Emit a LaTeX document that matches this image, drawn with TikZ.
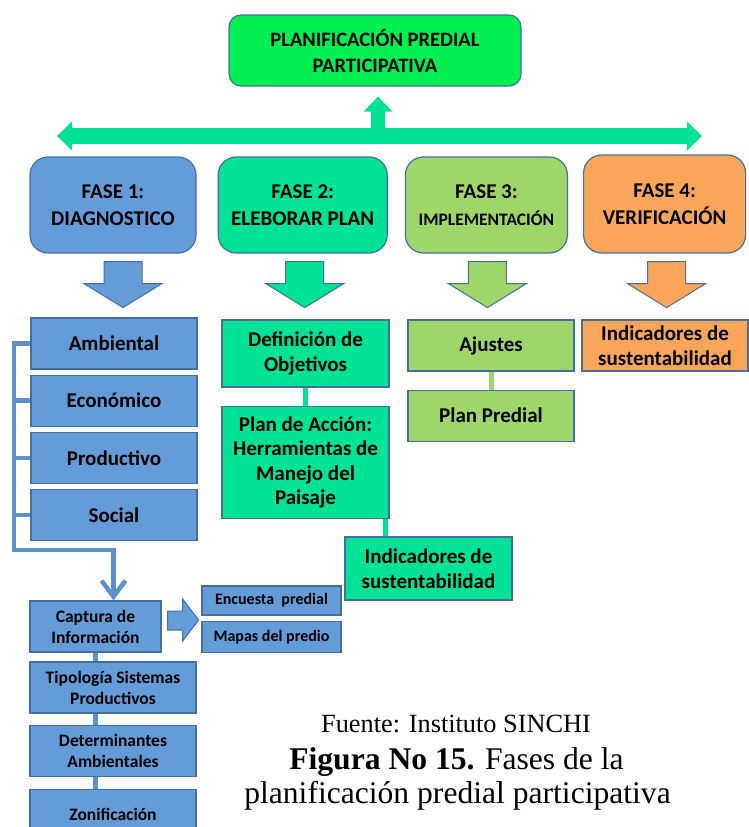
\documentclass[tikz,border=0pt]{standalone}
\usepackage{fontspec}
\setmainfont{Carlito}
\newfontfamily\timesfont{Liberation Serif}
\usetikzlibrary{shapes,arrows,arrows.meta,positioning,calc}
\usepackage{xcolor}

\definecolor{azul}{RGB}{99,156,217}
\definecolor{borde}{RGB}{70,110,158}
\definecolor{verde}{RGB}{0,226,150}
\definecolor{verdetitulo}{RGB}{0,240,82}
\definecolor{verdeclaro}{RGB}{158,214,106}
\definecolor{naranja}{RGB}{250,166,90}
\definecolor{lineaazul}{RGB}{92,145,204}

\begin{document}
\begin{tikzpicture}[x=1pt, y=-1pt, node distance=5pt, thick]
  \tikzstyle{titulo} = [rectangle, draw=borde, line width=1.2pt, fill=verdetitulo, rounded corners=12pt, minimum width=292pt, minimum height=71pt, align=center, font=\fontsize{20.5}{26}\selectfont\bfseries]
  \tikzstyle{fase} = [rectangle, draw=borde, line width=1.2pt, rounded corners=18pt, minimum width=166pt, minimum height=96pt, align=center, font=\fontsize{21}{27}\selectfont\bfseries]
  \tikzstyle{item} = [rectangle, draw=borde, line width=1.2pt, minimum width=166pt, minimum height=51pt, inner sep=2pt, align=center, font=\fontsize{21}{24.5}\selectfont\bfseries]
  \tikzstyle{chico} = [item, font=\fontsize{17.5}{21}\selectfont\bfseries, fill=azul]
  \tikzstyle{barra} = [draw=verde, line width=16pt, {Triangle[length=15pt,width=28pt]}-{Triangle[length=15pt,width=28pt]}]
  \tikzstyle{flecha} = [draw=verde, line width=14pt, -{Triangle[length=15pt,width=28pt]}]
  \tikzstyle{bloque} = [draw=borde, line width=1pt]
  \tikzstyle{ramal} = [draw=lineaazul, line width=4.5pt]
  \tikzstyle{conexion} = [line width=5pt]
  \tikzstyle{pie} = [font=\timesfont\fontsize{31.6}{34}\selectfont, anchor=base, inner sep=0pt]

  \useasboundingbox (0,0) rectangle (749,827);
  \clip (0,0) rectangle (749,827);

  % titulo y fases
  \node[titulo] (titulo) at (375,50.5) {PLANIFICACIÓN PREDIAL\\PARTICIPATIVA};
  \node[fase, fill=azul] (fase1) at (113,205) {FASE 1:\\DIAGNOSTICO};
  \node[fase, fill=verde, right=21pt of fase1, minimum width=169pt] (fase2) {FASE 2:\\ELEBORAR PLAN};
  \node[fase, fill=verdeclaro, right=17pt of fase2, minimum width=162pt] (fase3) {FASE 3:\\{\fontsize{17.5}{20}\selectfont IMPLEMENTACIÓN}};
  \node[fase, fill=naranja, right=15pt of fase3, minimum width=162pt, minimum height=98pt, yshift=1pt] (fase4) {FASE 4:\\VERIFICACIÓN};

  \coordinate (izq) at (57,136);
  \coordinate (der) at (702,136);
  \coordinate (sube) at (378,136);
  \draw[barra] (izq) -- (der);
  \draw[flecha, shorten >=10pt] (sube) -- (sube |- titulo.south);

  % flechas de bloque hacia abajo
  \foreach \f/\c/\dx in {fase1/azul/10, fase2/verde/2, fase3/verdeclaro/1, fase4/naranja/2}
    \draw[bloque, fill=\c] ([xshift=\dx pt, yshift=-8pt]\f.south) ++(-19,0) -- ++(38,0) -- ++(0,22)
      -- ++(20,0) -- ++(-39,24) -- ++(-39,-24) -- ++(20,0) -- cycle;

  % fase 1
  \node[item, fill=azul] (amb) at (114,343.5) {Ambiental};
  \node[item, fill=azul, below=of amb] (eco) {Económico};
  \node[item, fill=azul, below=of eco] (prod) {Productivo};
  \node[item, fill=azul, below=of prod] (soc) {Social};

  \node[chico, minimum width=131pt] (captura) at (95.5,626.5) {Captura de\\Información};
  \node[chico] (tipo) at (113,687.5) {Tipología Sistemas\\Productivos};
  \node[chico, below=11pt of tipo] (det) {Determinantes\\Ambientales};
  \node[chico, below=12pt of det] (zon) {Zonificación};
  \node[chico, font=\fontsize{16}{18}\selectfont\bfseries, minimum width=139pt, minimum height=29pt] (encuesta) at (271.5,600.5) {Encuesta\ \ predial};
  \node[chico, font=\fontsize{16}{18}\selectfont\bfseries, minimum width=139pt, minimum height=31pt, below=of encuesta] (mapas) {Mapas del predio};

  \coordinate (rama) at (14,550);
  \draw[ramal, -{Straight Barb[length=16pt,width=24pt]}] (amb.west) -| (rama) -| ([xshift=18pt]captura.north);
  \foreach \n in {eco,prod,soc}
    \draw[ramal] (\n.west) -- (\n.west -| rama);
  \draw[conexion, lineaazul] (captura.south) -- (captura.south |- tipo.north);
  \draw[conexion, lineaazul] (captura.south |- tipo.south) -- (captura.south |- det.north);
  \draw[conexion, lineaazul] (captura.south |- det.south) -- (captura.south |- zon.north);
  \draw[bloque, fill=azul] ([xshift=6pt, yshift=6pt]captura.east) ++(0,-9.5) -- ++(15,0) -- ++(0,-12)
    -- ++(16,21) -- ++(-16,21) -- ++(0,-11) -- ++(-15,0) -- cycle;

  % fase 2
  \node[item, fill=verde, minimum width=167pt, minimum height=67pt] (def) at (305.5,353.5) {Definición de\\Objetivos};
  \node[item, fill=verde, minimum width=167pt, minimum height=112pt, below=18pt of def] (plan) {Plan de Acción:\\Herramientas de\\Manejo del\\Paisaje};
  \node[item, fill=verde, minimum width=167pt, minimum height=63pt] (ind2) at (428.5,568.5) {Indicadores de\\sustentabilidad};
  \draw[conexion, verde] (def) -- (plan);
  \draw[conexion, verde] ([xshift=-4pt]plan.south east) -- ([xshift=-4pt]plan.south east |- ind2.north);

  % fase 3
  \node[item, fill=verdeclaro] (aju) at (491,345.5) {Ajustes};
  \node[item, fill=verdeclaro, below=18pt of aju] (ppred) {Plan Predial};
  \draw[conexion, verdeclaro] (aju) -- (ppred);

  % fase 4
  \node[item, fill=naranja] (ind4) at (665,345.5) {Indicadores de\\sustentabilidad};

  % pie de figura
  \node[pie, font=\timesfont\fontsize{26.3}{28}\selectfont] (fuente) at (456,732) {Fuente: Instituto SINCHI};
  \node[pie] (figura) at (456.5,769) {\textbf{Figura No 15.} Fases de la};
  \node[pie] (figura2) at (457.5,803) {planificación predial participativa};
\end{tikzpicture}
\end{document}
